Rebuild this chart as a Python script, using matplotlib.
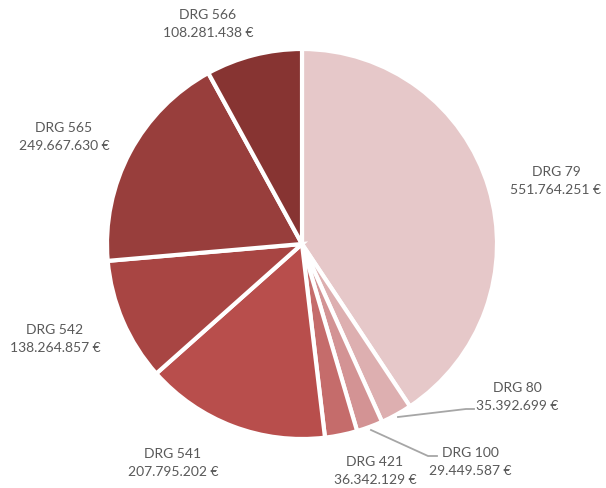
import matplotlib
matplotlib.use("Agg")
import matplotlib.pyplot as plt
import numpy as np

categories = ["DRG 79", "DRG 80", "DRG 100", "DRG 421", "DRG 541", "DRG 542", "DRG 565", "DRG 566"]
values = [551764251, 35392699, 29449587, 36342129, 207795202, 138264857, 249667630, 108281438]
value_labels = ["551.764.251 €", "35.392.699 €", "29.449.587 €", "36.342.129 €",
                "207.795.202 €", "138.264.857 €", "249.667.630 €", "108.281.438 €"]
colors = ["#E6C8C9", "#DDAFB0", "#D39394", "#C56C6B", "#B84E4C", "#A84543", "#983E3C", "#873432"]

W, H = 606, 489
fig = plt.figure(figsize=(W / 100, H / 100), dpi=100)
ax = fig.add_axes([0, 0, 1, 1])

cx, cy, r = 302, H - 245, 195
wedges, _ = ax.pie(values, colors=colors, startangle=90, counterclock=False,
                   center=(cx, cy), radius=r, frame=True,
                   wedgeprops=dict(edgecolor="white", linewidth=3))
ax.set_xlim(0, W)
ax.set_ylim(0, H)
ax.set_aspect("equal")
ax.axis("off")

# label centre positions (pixels, top-left origin)
label_pos = [(556, 181), (517, 397), (470, 462), (375, 471), (173, 463), (55, 339), (64, 137), (208, 24)]
txt_color = "#595959"
for name, vl, (lx, ly) in zip(categories, value_labels, label_pos):
    ax.text(lx, H - ly, f"{name}\n{vl}", ha="center", va="center", fontsize=10,
            color=txt_color, family=["Lato", "DejaVu Sans"], linespacing=1.55)

# leader lines for small slices
leaders = {
    1: [(398, 418), (466, 410), (474, 410)],
    2: [(371, 431), (428, 457), (437, 457)],
}
for i, pts in leaders.items():
    xs = [p[0] for p in pts]
    ys = [H - p[1] for p in pts]
    ax.plot(xs, ys, color="#A6A6A6", lw=1.3)

fig.savefig("out.png", dpi=100)
